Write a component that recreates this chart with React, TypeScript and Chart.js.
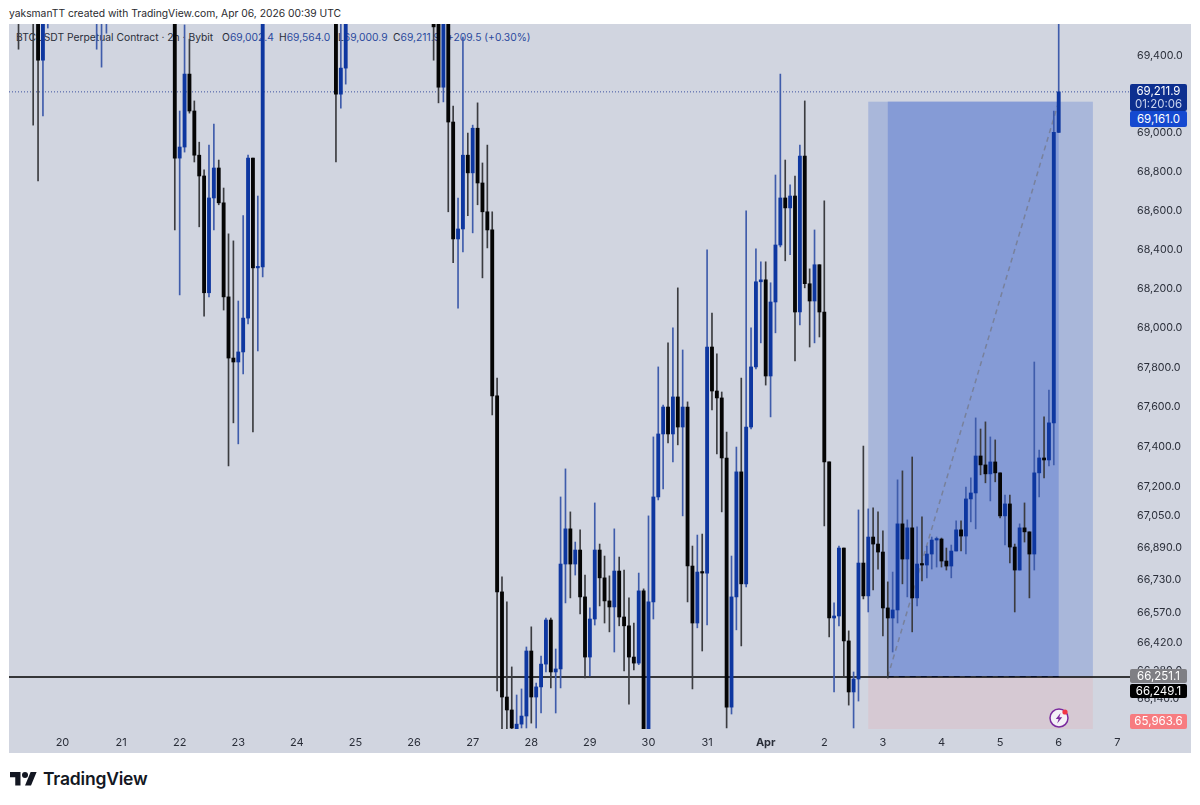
import React, { useEffect, useRef } from 'react';
import { Chart, registerables } from 'chart.js';

Chart.register(...registerables);

// 2h candles, slot 0 is Mar 20 00:00. null = whole candle sits above the visible range
const firstSlot = -9;
const n = null;

const opens = [
  69780, n, n, 69700, 69620, 69376, 69640, n, n, n,
  n, n, n, n, n, n, 69620, 69640, 69700, n,
  n, n, n, n, n, n, n, n, n, n,
  n, n, 69700, 68870, 68927, 69304, 69113, 68885, 68778, 68180,
  68665, 68819, 68640, 68159, 67848, 67828, 67879, 68051, 68870, 68307,
  68312, n, n, n, n, n, n, n, n, n,
  n, n, n, n, n, 69700, 69200, 69335, n, n,
  n, n, n, n, n, n, n, n, n, n,
  n, n, n, n, n, 69580, 69640, 69236, 69660, 69056,
  68455, 68506, 68885, 68794, 69024, 68742, 68594, 68501, 67656, 66672,
  66150, 66086, 65985, 66016, 66056, 66378, 66150, 66200, 66313, 66532,
  66274, 66289, 66811, 66987, 66811, 66881, 66647, 66348, 66537, 66881,
  66742, 66627, 66597, 66776, 66547, 66503, 66348, 66318, 66677, 65950,
  66622, 67147, 67464, 67600, 67464, 67651, 67499, 67600, 66801, 66517,
  66771, 66766, 67904, 67681, 67646, 67343, 66100, 66647, 67273, 66712,
  67499, 67803, 68236, 68246, 67757, 68133, 68424, 68665, 68614, 68675,
  68082, 68880, 68226, 68138, 68323, 68082, 67323, 66542, 66552, 66891,
  66428, 66175, 66239, 66816, 66652, 66946, 66911, 66871, 66592, 66542,
  66582, 67012, 66836, 66992, 66642, 66811, 66806, 66861, 66931, 66936,
  66826, 66801, 66876, 66982, 66951, 67137, 67167, 67353, 67308, 67263,
  67323, 67268, 67052, 67112, 66896, 66781, 66992, 66972, 66861, 67268,
  67343, 67333, 67520, 69002.4,
];

const closes = [
  69640, n, n, 69620, 69376, 69640, 69720, n, n, n,
  n, n, n, n, n, n, 69700, 69740, 69800, n,
  n, n, n, n, n, n, n, n, n, n,
  n, n, 68870, 68927, 69304, 69113, 68885, 68778, 68180, 68665,
  68819, 68640, 68159, 67848, 67828, 67879, 68051, 68870, 68307, 68312,
  69700, n, n, n, n, n, n, n, n, n,
  n, n, n, n, n, 69200, 69335, 69640, n, n,
  n, n, n, n, n, n, n, n, n, n,
  n, n, n, n, n, 69549, 69236, 69660, 69056, 68455,
  68506, 68885, 68794, 69024, 68742, 68594, 68501, 67656, 66672, 66150,
  66086, 65997, 66016, 66056, 66378, 66150, 66200, 66313, 66532, 66274,
  66289, 66811, 66987, 66811, 66881, 66647, 66348, 66537, 66881, 66742,
  66627, 66597, 66776, 66547, 66503, 66348, 66318, 66677, 65950, 66622,
  67147, 67464, 67600, 67464, 67651, 67499, 67600, 66801, 66517, 66771,
  66766, 67904, 67681, 67646, 67343, 66100, 66647, 67273, 66712, 67499,
  67803, 68236, 68246, 67757, 68133, 68424, 68665, 68614, 68675, 68082,
  68880, 68226, 68138, 68323, 68082, 67323, 66542, 66552, 66891, 66428,
  66175, 66239, 66816, 66652, 66946, 66911, 66871, 66592, 66542, 66582,
  67012, 66836, 66992, 66642, 66811, 66806, 66861, 66931, 66936, 66826,
  66801, 66876, 66982, 66951, 67137, 67167, 67353, 67308, 67263, 67323,
  67268, 67052, 67112, 66896, 66781, 66992, 66972, 66861, 67268, 67343,
  67333, 67520, 69002.4, 69211.9,
];

const highs = [
  69820, n, n, 69820, 69700, 69760, 69800, n, n, n,
  n, n, n, n, n, n, 69780, 69800, 69860, n,
  n, n, n, n, n, n, n, n, n, n,
  n, n, 69780, 69113, 69559, 69485, 69165, 68952, 68809, 68937,
  69045, 68860, 68716, 68481, 68445, 68138, 68574, 68885, 68870, 68675,
  69780, n, n, n, n, n, n, n, n, n,
  n, n, n, n, n, 69780, 69620, 69720, n, n,
  n, n, n, n, n, n, n, n, n, n,
  n, n, n, n, n, 69620, 69700, 69720, 69720, 69139,
  68665, 69496, 68999, 69040, 69155, 68845, 68937, 68594, 67747, 66747,
  66622, 66299, 66160, 66190, 66398, 66498, 66219, 66353, 66542, 66542,
  66388, 67147, 67288, 67072, 66921, 66982, 66756, 66592, 67117, 66911,
  66851, 66752, 66987, 66846, 66781, 66642, 66517, 66766, 66687, 67052,
  67449, 67803, 67610, 67925, 68001, 68205, 67889, 67626, 66901, 66956,
  66961, 68399, 68077, 67869, 67676, 67474, 66851, 67398, 67747, 68599,
  68001, 68404, 68338, 68338, 68231, 68783, 69304, 68860, 68732, 68778,
  68937, 69165, 68302, 68501, 68323, 68650, 67323, 66617, 66901, 66891,
  66478, 66274, 67082, 67403, 67087, 67092, 67072, 66977, 66722, 66771,
  67233, 67278, 67032, 67348, 66997, 67047, 66901, 66946, 66946, 66941,
  66891, 66906, 67027, 67027, 67197, 67243, 67545, 67489, 67525, 67449,
  67434, 67268, 67157, 67157, 66911, 67012, 67117, 66972, 67828, 67383,
  67550, 67686, 69113, 69564,
];

const lows = [
  69433, n, n, 69040, 68752, 69087, 69543, n, n, n,
  n, n, n, n, n, n, 69433, 69340, 69516, n,
  n, n, n, n, n, n, n, n, n, n,
  n, n, 68501, 68169, 68901, 69102, 68850, 68517, 68061, 68159,
  68501, 68630, 68092, 67303, 67520, 67414, 67767, 68021, 67474, 67884,
  68261, n, n, n, n, n, n, n, n, n,
  n, n, n, n, n, 68850, 69128, 69252, n, n,
  n, n, n, n, n, n, n, n, n, n,
  n, n, n, n, n, 69376, 69155, 69160, 68594, 68333,
  68102, 68389, 68574, 68486, 68630, 68256, 68409, 67560, 66180, 65982,
  65970, 65960, 65960, 65997, 65997, 66021, 65997, 66071, 66274, 66195,
  66071, 66195, 66617, 66642, 66756, 66562, 66244, 66254, 66507, 66602,
  66517, 66473, 66373, 66503, 66279, 66115, 66284, 66310, 65900, 65900,
  66537, 67132, 67187, 67419, 67323, 67409, 67052, 66622, 66190, 66493,
  66378, 66507, 67585, 67363, 67072, 65997, 66066, 66483, 66403, 66697,
  67489, 67793, 67925, 67711, 67550, 67976, 68414, 68343, 68374, 67833,
  68016, 68205, 67904, 67925, 67955, 67002, 66448, 66175, 66503, 66254,
  66110, 65997, 66130, 66637, 66572, 66682, 66786, 66453, 66244, 66373,
  66517, 66712, 66647, 66473, 66602, 66727, 66742, 66786, 66796, 66796,
  66781, 66742, 66876, 66876, 66861, 67022, 66987, 67258, 67218, 67127,
  67223, 67042, 66906, 66816, 66572, 66781, 66921, 66642, 66781, 67147,
  67243, 67303, 67308, 69000.9,
];

// axes
const dayLabels = ['20', '21', '22', '23', '24', '25', '26', '27', '28', '29', '30', '31', 'Apr', '2', '3', '4', '5', '6', '7'];
const priceTicks = [69400, 69200, 69000, 68800, 68600, 68400, 68200, 68000, 67800, 67600, 67400, 67200, 67050, 66890, 66730, 66570, 66420, 66280, 66140];
const slotsPerDay = 12;
const slotMin = -10.95;
const slotMax = 218.6;
const priceMin = 65992;
const priceMax = 69564;

// long position tool and price lines
const lastPrice = 69211.9;
const crossPrice = 66249.1;
const entryPrice = 66251.1;
const targetPrice = 69161.0;
const stopPrice = 65963.6;
const toolStart = 165;
const tradeStart = 169;
const tradeEnd = 204;
const toolEnd = 211;

const UP = '#0e37a0';
const DOWN = '#050505';
const UP_WICK = '#3f5cab';
const DOWN_WICK = '#3b3c40';

const candleRows = opens
  .map((o, k) => ({ x: k + firstSlot, o, h: highs[k], l: lows[k], c: closes[k] }))
  .filter((row) => row.o !== null);

const positionTool = {
  id: 'positionTool',
  beforeDatasetsDraw(chart: Chart) {
    const { ctx, chartArea, scales } = chart;
    const px = (v: number) => scales.x.getPixelForValue(v);
    const py = (v: number) => scales.y.getPixelForValue(v);
    ctx.save();
    ctx.beginPath();
    ctx.rect(chartArea.left, chartArea.top, chartArea.width, chartArea.height);
    ctx.clip();
    ctx.fillStyle = '#a9b7da';
    ctx.fillRect(px(toolStart), py(targetPrice), px(toolEnd) - px(toolStart), py(entryPrice) - py(targetPrice));
    ctx.fillStyle = '#859bd6';
    ctx.fillRect(px(tradeStart), py(targetPrice), px(tradeEnd) - px(tradeStart), py(entryPrice) - py(targetPrice));
    ctx.fillStyle = '#d6c9d3';
    ctx.fillRect(px(toolStart), py(entryPrice), px(toolEnd) - px(toolStart), py(stopPrice) - py(entryPrice));
    ctx.restore();
  },
};

const lineBase = { type: 'line', pointRadius: 0, tension: 0, borderWidth: 1 };

const App: React.FC = () => {
  const canvasRef = useRef<HTMLCanvasElement>(null);

  useEffect(() => {
    if (!canvasRef.current) return;
    const chart = new Chart(canvasRef.current, {
      type: 'bar',
      data: {
        datasets: [
          {
            label: 'body',
            order: 0,
            grouped: false,
            barThickness: 3.2,
            minBarLength: 1.5,
            data: candleRows.map((r) => ({ x: r.x, y: [r.o, r.c] })),
            backgroundColor: candleRows.map((r) => (r.c >= r.o ? UP : DOWN)),
          },
          {
            label: 'wick',
            order: 1,
            grouped: false,
            barThickness: 1,
            data: candleRows.map((r) => ({ x: r.x, y: [r.l, r.h] })),
            backgroundColor: candleRows.map((r) => (r.c >= r.o ? UP_WICK : DOWN_WICK)),
          },
          {
            ...lineBase,
            label: 'last',
            order: 2,
            borderColor: '#3d52a0',
            borderDash: [1, 2],
            data: [{ x: slotMin, y: lastPrice }, { x: slotMax, y: lastPrice }],
          },
          {
            ...lineBase,
            label: 'cross',
            order: 2,
            borderColor: '#000',
            borderWidth: 1.6,
            data: [{ x: slotMin, y: crossPrice }, { x: slotMax, y: crossPrice }],
          },
          {
            ...lineBase,
            label: 'entry',
            order: 2,
            borderColor: '#1b3a9c',
            borderDash: [6, 5],
            data: [{ x: tradeStart, y: entryPrice }, { x: tradeEnd, y: entryPrice }],
          },
          {
            ...lineBase,
            label: 'trade',
            order: 2,
            borderColor: '#78819c',
            borderWidth: 1.5,
            borderDash: [5, 4],
            data: [{ x: tradeStart, y: entryPrice }, { x: tradeEnd, y: targetPrice }],
          },
        ] as any,
      },
      options: {
        responsive: false,
        animation: false,
        events: [],
        layout: { padding: { left: 9, top: 24, right: 9, bottom: 52 } },
        plugins: { legend: { display: false }, tooltip: { enabled: false } },
        scales: {
          x: {
            type: 'linear',
            offset: false,
            bounds: 'data',
            min: slotMin,
            max: slotMax,
            grid: { display: false, drawTicks: false },
            border: { display: false },
            afterBuildTicks: (s: any) => {
              s.ticks = dayLabels.map((_, d) => ({ value: d * slotsPerDay }));
            },
            afterFit: (s: any) => {
              s.height = 24;
            },
            ticks: {
              autoSkip: false,
              maxRotation: 0,
              padding: 7,
              color: '#2a2e39',
              font: (c: any) => ({
                family: 'Inter',
                size: 11,
                weight: dayLabels[c.index] === 'Apr' ? 'bold' : 'normal',
              }),
              callback: (_v: any, i: number) => dayLabels[i],
            },
          },
          y: {
            type: 'logarithmic',
            position: 'right',
            bounds: 'data',
            min: priceMin,
            max: priceMax,
            grid: { display: false, drawTicks: false },
            border: { display: false },
            afterBuildTicks: (s: any) => {
              s.ticks = priceTicks.map((v) => ({ value: v }));
            },
            afterFit: (s: any) => {
              s.width = 61;
            },
            ticks: {
              autoSkip: false,
              padding: 7,
              color: '#2a2e39',
              font: { family: 'Inter', size: 10.7 },
              callback: (v: any) =>
                Number(v).toLocaleString('en-US', { minimumFractionDigits: 1, maximumFractionDigits: 1 }),
            },
          },
        },
      } as any,
      plugins: [positionTool],
    });
    return () => chart.destroy();
  }, []);

  const tag = (top: number, h: number, bg: string): React.CSSProperties => ({
    position: 'absolute',
    left: 1130,
    top,
    width: 57,
    height: h,
    background: bg,
    borderRadius: 2,
    color: '#fff',
    fontSize: 11.5,
    lineHeight: h + 'px',
    textAlign: 'center',
    zIndex: 3,
  });

  const legendValue: React.CSSProperties = { color: '#2b4a9e' };
  const legendAt = (left: number): React.CSSProperties => ({ position: 'absolute', left, top: 0, whiteSpace: 'nowrap' });

  return (
    <div style={{ position: 'absolute', left: 0, top: 0, width: 1200, height: 805, background: '#fff', overflow: 'hidden', fontFamily: 'Inter, sans-serif' }}>
      <div style={{ position: 'absolute', left: 9, top: 6, fontSize: 10.3, lineHeight: '14px', color: '#2a2a2e', whiteSpace: 'nowrap' }}>
        yaksmanTT created with TradingView.com, Apr 06, 2026 00:39 UTC
      </div>
      <div style={{ position: 'absolute', left: 9, top: 24, width: 1182, height: 729, background: '#d1d5e0' }} />
      <div style={{ position: 'absolute', left: 16, top: 30, height: 14, fontSize: 10.3, lineHeight: '14px', color: '#2a2e39' }}>
        <span style={legendAt(0)}>BTCUSDT Perpetual Contract · 2h · Bybit</span>
        <span style={legendAt(206)}>O<span style={legendValue}>69,002.4</span></span>
        <span style={legendAt(263)}>H<span style={legendValue}>69,564.0</span></span>
        <span style={legendAt(322)}>L<span style={legendValue}>69,000.9</span></span>
        <span style={legendAt(377)}>C<span style={legendValue}>69,211.9</span></span>
        <span style={{ ...legendAt(431), ...legendValue }}>+209.5 (+0.30%)</span>
      </div>
      <canvas ref={canvasRef} width={1200} height={805} style={{ position: 'absolute', left: 0, top: 0, zIndex: 2 }} />

      <div style={{ ...tag(84, 27, '#0d2f8f'), lineHeight: '13px', paddingTop: 1, height: 26 }}>
        <div>69,211.9</div>
        <div style={{ color: '#c9d3ee' }}>01:20:06</div>
      </div>
      <div style={tag(111, 16, '#1549d0')}>69,161.0</div>
      <div style={tag(669, 14, '#7f7f84')}>66,251.1</div>
      <div style={tag(684, 14, '#000')}>66,249.1</div>
      <div style={tag(714, 15, '#f77c80')}>65,963.6</div>

      <svg width="22" height="22" viewBox="0 0 22 22" style={{ position: 'absolute', left: 1048, top: 707, zIndex: 3 }}>
        <circle cx="11" cy="11" r="9" fill="#f4f1f7" stroke="#7b2a9e" strokeWidth="1.5" />
        <path d="M12.6 6 L7.8 12 L10.6 12 L9.2 16.4 L14.2 10.2 L11.3 10.2 Z" fill="#7b2a9e" />
        <circle cx="17" cy="5" r="2.6" fill="#f23645" />
      </svg>

      <svg width="27" height="21" viewBox="0 0 36 28" style={{ position: 'absolute', left: 10, top: 769 }}>
        <path d="M14 22H7V11H0V4h14v18zM28 22h-8l7.5-18h8L28 22z" fill="#131722" />
        <circle cx="20" cy="8" r="4" fill="#131722" />
      </svg>
      <div style={{ position: 'absolute', left: 43, top: 767, fontSize: 17.5, lineHeight: '24px', fontWeight: 600, color: '#131722', letterSpacing: -0.2 }}>
        TradingView
      </div>
    </div>
  );
};

export default App;
